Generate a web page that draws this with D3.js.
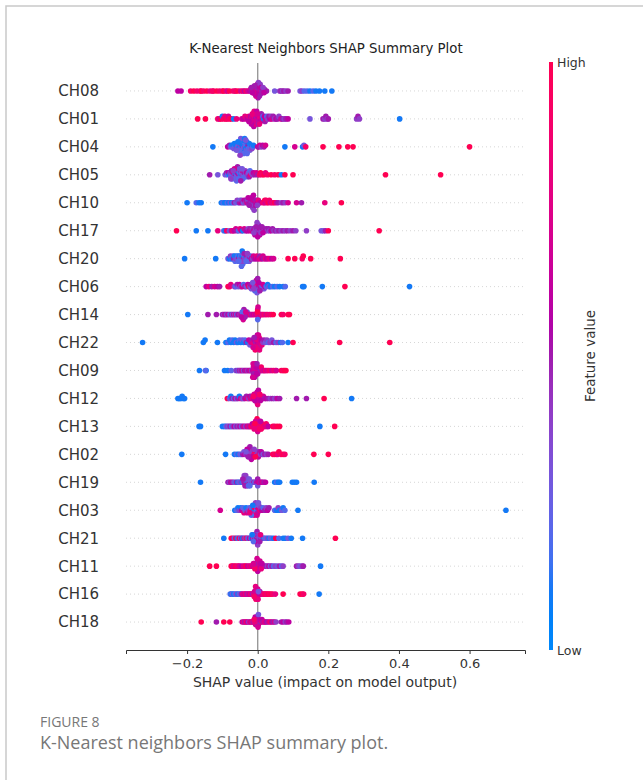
<!DOCTYPE html>
<html>
<head>
<meta charset="utf-8">
<script src="https://cdn.jsdelivr.net/npm/d3@7"></script>
<style>
  html, body { margin: 0; padding: 0; background: #fff; }
  svg { display: block; }
</style>
</head>
<body>
<div id="chart"></div>
<script>
// Feature order, top to bottom
const features = ["CH08", "CH01", "CH04", "CH05", "CH10", "CH17", "CH20", "CH06", "CH14", "CH22",
                  "CH09", "CH12", "CH13", "CH02", "CH19", "CH03", "CH21", "CH11", "CH16", "CH18"];

// each point: [SHAP value x1000, feature value 0 (low) .. 10 (high)]
// last line of each row = the dense core around its peak
const CH08 = [[-226,6],[-217,6],[-190,9],[-181,10],[-172,9],[-163,8],[-160,10],[-153,9],[-144,10],[-135,8],[-128,9],[-125,9],[-116,10],[-108,9],[-100,8],[-97,10],[-90,9],[-86,7],[-80,10],[-70,9],[-64,8],[-62,9],[-55,10],[-48,7],[-42,9],[-38,6],[-33,9],[-28,7],
  [-22,6],[-20,7],[-18,5],[-15,6],[-14,8],[-12,5],[-10,6],[-9,7],[-8,4],[-6,6],[-5,5],[-4,7],[-3,6],[-2,5],[-1,8],[0,5],[0,6],[1,4],[2,6],[3,7],[4,5],[5,5],[6,6],[7,4],[8,7],[10,5],[11,6],[13,4],[15,5],[17,6],[19,5],[22,4],[25,5],
  [48,3],[62,4],[66,5],[70,4],[74,5],[80,4],[86,5],[120,3],[125,4],[132,2],[140,2],[148,1],[157,2],[165,1],[175,1],[190,1],[210,1],
  [0,6],[0,5],[-1,7],[1,5],[-2,6],[2,4],[-4,5],[4,6],[-5,7],[5,5],[-7,6],[7,4],[-9,5],[9,6],[-12,7],[12,5],[-15,6],[15,4],[-18,5],[18,6]];
const CH01 = [[-170,10],[-148,10],[-113,9],[-108,7],[-104,10],[-100,1],[-97,9],[-93,8],[-90,10],[-87,9],[-83,7],[-80,9],[-75,10],[-68,1],[-60,8],[-45,7],[-40,6],[-36,8],[-32,7],[-28,6],[-25,8],[-22,7],[-20,6],[-17,8],[-15,7],[-12,6],[-10,8],[-8,7],[-6,6],[-4,5],[-2,8],[0,7],[1,6],[3,5],[5,7],[6,8],[8,6],[10,5],[12,7],[15,2],[17,1],[19,6],[21,5],[24,7],[26,2],[28,4],[32,5],[35,6],[38,4],[40,7],[44,5],[48,4],[52,6],[56,5],[60,4],[66,7],[70,5],[75,4],[80,5],[86,6],[148,3],[185,5],[190,4],[193,5],[197,4],[200,5],[280,4],[284,5],[288,4],[402,1],
  [-8,7],[-8,6],[-10,8],[-6,7],[-11,6],[-5,8],[-13,7],[-3,6],[-15,8],[-1,7],[-18,6],[2,5],[-21,7],[5,8],[-25,6]];
const CH04 = [[-127,1],[-85,6],[-80,5],[-77,3],[-74,1],[-72,2],[-70,1],[-68,3],[-66,1],[-64,2],[-62,1],[-60,4],[-58,1],[-56,2],[-55,3],[-54,1],[-52,2],[-50,1],[-49,4],[-48,2],[-47,1],[-46,3],[-45,1],[-44,2],[-43,5],[-42,1],[-41,2],[-40,1],[-39,3],[-38,2],[-37,1],[-36,4],[-35,2],[-34,1],[-33,2],[-32,3],[-31,1],[-30,2],[-28,1],[-27,5],[-26,2],[-24,1],[-22,3],[-20,2],[-18,1],[-16,4],[-14,2],[-12,1],[0,6],[3,5],[6,7],[10,4],[14,6],[18,5],[22,7],[77,1],[105,7],[127,1],[131,3],[136,9],[185,10],[230,10],[255,10],[270,10],[600,10],
  [-45,2],[-45,4],[-42,1],[-48,3],[-40,2],[-50,4],[-37,1],[-53,2],[-34,3],[-56,1],[-30,2],[-60,3]];
const CH05 = [[-136,5],[-113,3],[-92,3],[-88,5],[-85,2],[-82,6],[-80,1],[-78,4],[-76,3],[-74,5],[-72,2],[-70,7],[-68,3],[-66,4],[-64,1],[-63,6],[-62,3],[-60,2],[-58,5],[-57,3],[-56,1],[-55,4],[-53,6],[-52,2],[-50,3],[-48,5],[-47,1],[-46,3],[-44,4],[-43,7],[-42,2],[-40,3],[-38,5],[-37,2],[-35,4],[-33,3],[-31,6],[-30,2],[-28,4],[-26,3],[-24,5],[-22,2],[-20,8],[-18,3],[-15,4],[-12,6],[-8,5],[-4,7],[0,5],[5,9],[8,10],[12,9],[18,10],[22,8],[28,9],[38,10],[48,9],[58,10],[67,1],[77,10],[100,10],[362,10],[518,10],
  [-60,4],[-60,2],[-57,5],[-63,3],[-54,2],[-66,7],[-51,3],[-69,4],[-48,5],[-72,2],[-44,3],[-76,4]];
const CH10 = [[-200,1],[-174,2],[-166,1],[-160,1],[-103,1],[-98,2],[-94,1],[-90,1],[-86,2],[-82,1],[-78,3],[-74,1],[-70,2],[-66,5],[-62,3],[-58,4],[-55,2],[-52,5],[-50,3],[-47,6],[-45,4],[-42,5],[-40,3],[-38,6],[-35,4],[-33,5],[-30,7],[-28,4],[-26,5],[-24,3],[-22,6],[-20,5],[-18,4],[-16,6],[-14,5],[-12,7],[-10,4],[-8,6],[-6,5],[-4,7],[-2,5],[0,6],[2,8],[5,7],[8,6],[15,9],[18,8],[20,10],[22,7],[24,9],[27,8],[30,10],[33,9],[36,7],[40,9],[44,8],[48,10],[53,7],[58,5],[67,4],[72,5],[78,4],[86,7],[110,7],[124,5],[190,8],[237,10],
  [-14,5],[-14,4],[-12,6],[-16,5],[-10,4],[-18,6],[-7,5],[-21,4],[-4,6],[-24,5],[-1,4],[-27,6]];
const CH17 = [[-230,10],[-174,1],[-141,1],[-113,8],[-96,2],[-92,1],[-88,9],[-80,3],[-74,7],[-70,8],[-66,6],[-62,7],[-58,5],[-54,2],[-50,8],[-46,6],[-42,1],[-38,7],[-34,5],[-30,6],[-27,4],[-24,6],[-21,5],[-18,7],[-15,4],[-12,6],[-10,5],[-8,7],[-6,4],[-4,6],[-2,5],[0,3],[0,6],[2,5],[4,4],[6,6],[8,5],[10,4],[13,6],[16,5],[19,4],[22,6],[25,5],[28,4],[31,5],[34,4],[38,6],[42,5],[46,4],[50,5],[55,4],[60,5],[66,4],[72,5],[78,4],[84,5],[92,4],[100,5],[108,4],[138,4],[180,3],[186,3],[192,5],[200,10],[344,10],
  [2,5],[2,4],[0,6],[4,5],[-2,4],[6,6],[-5,5],[9,4],[-8,6],[12,5],[-11,4],[15,6]];
const CH20 = [[-207,1],[-119,1],[-84,3],[-80,1],[-77,4],[-74,2],[-72,1],[-70,3],[-68,5],[-66,1],[-64,2],[-62,4],[-60,1],[-58,3],[-56,2],[-54,5],[-52,1],[-50,3],[-48,2],[-46,4],[-44,1],[-42,3],[-40,5],[-38,2],[-36,4],[-34,1],[-32,3],[-30,6],[-28,2],[-26,4],[-24,3],[-22,5],[-20,2],[-18,6],[-15,4],[-12,7],[-9,5],[-6,6],[-3,8],[0,6],[3,7],[6,5],[9,8],[12,6],[15,7],[18,5],[22,8],[26,6],[30,7],[35,8],[40,6],[45,7],[86,10],[105,10],[126,9],[129,10],[150,10],[234,10],
  [-42,3],[-42,2],[-40,4],[-44,1],[-38,5],[-46,2],[-35,3],[-49,4],[-32,2],[-52,3],[-29,4],[-55,2]];
const CH06 = [[-146,6],[-138,8],[-130,5],[-122,7],[-114,6],[-108,5],[-84,10],[-79,9],[-76,8],[-66,4],[-62,2],[-58,5],[-55,3],[-52,6],[-48,4],[-44,7],[-40,2],[-36,5],[-32,3],[-28,6],[-25,10],[-22,4],[-20,5],[-18,3],[-15,7],[-12,4],[-10,6],[-8,2],[-6,5],[-4,9],[-2,3],[0,6],[0,4],[2,5],[3,7],[5,3],[7,6],[9,4],[11,5],[13,2],[15,7],[18,3],[20,6],[24,2],[28,1],[32,3],[36,1],[42,2],[48,1],[55,2],[62,1],[72,1],[78,2],[127,1],[131,1],[183,1],[247,10],[430,1],
  [-4,4],[-4,6],[-2,3],[-6,8],[0,5],[-8,2],[3,6],[-11,4],[6,5],[-14,3]];
const CH14 = [[-198,1],[-141,5],[-117,5],[-100,5],[-96,4],[-93,6],[-90,5],[-87,3],[-84,6],[-80,4],[-77,2],[-74,5],[-71,3],[-68,6],[-65,4],[-62,7],[-59,2],[-56,5],[-53,6],[-50,4],[-47,7],[-44,5],[-42,6],[-40,4],[-38,7],[-35,5],[-32,6],[-30,3],[-28,7],[-25,5],[-22,6],[-20,8],[-17,5],[-14,7],[-11,6],[-8,8],[-5,6],[-2,7],[0,9],[0,5],[2,7],[4,8],[7,6],[10,9],[13,7],[16,8],[20,9],[24,7],[28,9],[33,8],[38,9],[44,10],[67,10],[72,9],[86,10],[90,10],
  [-40,5],[-40,6],[-39,5],[-41,7],[-38,4],[-42,6],[-36,5],[-44,2],[-34,7],[-46,6],[0,8],[0,2],[1,7],[-1,10]];
const CH22 = [[-326,1],[-154,1],[-149,1],[-114,1],[-90,1],[-84,2],[-80,1],[-76,1],[-72,2],[-68,1],[-64,1],[-60,3],[-56,1],[-52,2],[-48,1],[-44,3],[-40,1],[-36,2],[-32,5],[-28,1],[-25,6],[-22,3],[-19,7],[-16,5],[-13,8],[-10,6],[-8,9],[-6,5],[-4,7],[-2,8],[0,6],[0,8],[2,7],[4,9],[6,5],[8,7],[10,6],[12,8],[15,4],[18,5],[22,3],[26,4],[30,2],[35,4],[40,3],[45,5],[52,2],[58,4],[65,1],[70,2],[86,1],[100,10],[232,10],[374,10],
  [-4,7],[-4,8],[-1,6],[-7,9],[2,7],[-10,5],[5,8],[-13,7]];
const CH09 = [[-165,1],[-146,1],[-148,2],[-94,1],[-85,1],[-75,2],[-62,3],[-58,5],[-55,2],[-52,6],[-49,4],[-46,5],[-43,7],[-40,3],[-37,6],[-34,5],[-31,7],[-28,4],[-25,6],[-22,5],[-20,7],[-17,4],[-14,6],[-12,5],[-9,7],[-6,6],[-4,8],[-2,5],[0,7],[0,6],[2,8],[4,6],[6,7],[8,5],[10,9],[13,7],[16,8],[19,6],[22,9],[26,7],[30,8],[35,9],[40,7],[45,8],[50,9],[53,7],[67,10],[72,9],[76,10],[80,10],
  [-8,6],[-8,5],[-7,7],[-9,6],[-6,5],[-10,7],[-5,6],[-11,7],[-4,6],[-12,5],[-3,6],[-13,7],[-2,5],[-14,7]];
const CH12 = [[-226,1],[-222,1],[-218,1],[-214,1],[-210,1],[-207,1],[-86,10],[-80,3],[-76,1],[-72,5],[-68,2],[-64,6],[-60,3],[-56,5],[-52,1],[-48,7],[-44,4],[-40,3],[-36,6],[-32,5],[-28,8],[-25,4],[-22,6],[-20,7],[-17,5],[-14,8],[-11,6],[-8,7],[-6,5],[-4,9],[-2,6],[0,7],[0,5],[2,8],[4,6],[6,7],[8,5],[10,8],[13,6],[16,7],[20,5],[24,6],[30,5],[36,4],[42,5],[48,4],[55,6],[62,5],[110,5],[138,5],[188,10],[266,1],
  [-2,7],[-2,6],[0,8],[-4,7],[2,6],[-6,8],[4,7],[-8,6],[6,9],[-10,7],[8,6],[-12,9]];
const CH13 = [[-166,1],[-162,1],[-100,1],[-94,1],[-90,2],[-86,4],[-82,3],[-78,5],[-74,2],[-70,4],[-66,6],[-62,3],[-58,5],[-54,4],[-50,6],[-46,3],[-42,5],[-38,7],[-34,4],[-30,6],[-27,8],[-24,5],[-21,7],[-18,9],[-15,6],[-12,8],[-9,7],[-6,9],[-4,6],[-2,8],[0,10],[0,7],[2,9],[4,6],[6,8],[8,10],[10,7],[12,9],[15,8],[18,10],[21,7],[24,9],[27,8],[30,6],[43,10],[48,9],[55,10],[62,10],[176,1],[218,10],
  [0,9],[0,7],[2,8],[-2,10],[4,7],[-4,8],[6,9],[-6,7],[8,6],[-8,10],[10,9],[-10,8]];
const CH02 = [[-215,1],[-91,1],[-66,1],[-60,2],[-55,1],[-50,3],[-46,2],[-42,5],[-39,3],[-36,6],[-33,4],[-30,5],[-27,10],[-24,4],[-21,6],[-18,3],[-15,5],[-12,9],[-10,4],[-8,6],[-6,5],[-4,3],[-2,7],[0,5],[0,4],[2,6],[4,9],[6,5],[8,4],[10,6],[13,5],[16,3],[20,5],[25,4],[30,5],[43,10],[48,9],[53,10],[57,8],[60,10],[66,9],[72,10],[77,9],[159,10],[200,10],
  [-20,5],[-20,4],[-18,6],[-22,5],[-16,9],[-24,4],[-13,6],[-27,5],[-10,4],[-30,6],[-7,10],[-33,3]];
const CH19 = [[-162,1],[-84,5],[-80,4],[-76,6],[-72,5],[-68,4],[-64,2],[-60,5],[-56,1],[-53,3],[-50,2],[-47,4],[-44,1],[-41,3],[-38,5],[-35,2],[-32,4],[-29,1],[-26,3],[-23,5],[-20,2],[-17,4],[-14,3],[-11,5],[-8,2],[-5,4],[-2,6],[0,5],[0,3],[2,6],[5,7],[8,5],[11,6],[14,7],[18,5],[22,6],[48,1],[54,2],[58,1],[62,1],[98,1],[104,1],[110,1],[160,1],
  [-32,3],[-32,5],[-30,2],[-34,4],[-28,3],[-36,5],[-26,2],[-38,4],[-24,3],[-40,4],[-22,2],[-42,5]];
const CH03 = [[-106,7],[-65,1],[-60,2],[-56,1],[-52,4],[-48,1],[-45,6],[-42,2],[-39,8],[-36,3],[-33,1],[-30,7],[-27,4],[-24,2],[-21,8],[-18,3],[-15,6],[-12,1],[-9,9],[-6,4],[-3,2],[0,7],[0,5],[3,3],[6,8],[9,4],[12,6],[15,2],[20,5],[24,4],[28,6],[32,5],[48,2],[54,1],[58,4],[62,1],[68,3],[72,1],[77,2],[114,1],[703,1],
  [-10,2],[-10,8],[-6,4],[-14,1],[-2,7],[-18,2],[2,3],[-22,8]];
const CH21 = [[-96,1],[-75,10],[-70,9],[-66,2],[-62,10],[-58,1],[-55,3],[-52,9],[-48,2],[-45,5],[-42,1],[-38,8],[-35,3],[-32,10],[-29,4],[-26,2],[-23,6],[-20,4],[-17,1],[-14,5],[-11,3],[-8,7],[-5,2],[-2,5],[0,4],[0,1],[2,6],[5,3],[8,5],[11,2],[14,4],[17,1],[20,3],[24,2],[28,4],[32,1],[36,3],[40,2],[45,1],[51,10],[60,2],[72,1],[78,1],[86,3],[95,1],[127,1],[220,10],
  [-4,4],[-4,3],[-2,5],[-6,2],[0,4],[-8,6],[2,3],[-10,5],[4,4],[-12,2],[6,5],[-14,3],[8,8],[-16,1]];
const CH11 = [[-136,10],[-117,10],[-75,10],[-71,9],[-67,7],[-63,10],[-58,8],[-54,9],[-51,7],[-45,6],[-40,8],[-36,7],[-33,10],[-28,6],[-24,8],[-20,7],[-16,9],[-13,6],[-10,8],[-7,7],[-4,6],[-2,9],[0,7],[0,5],[2,8],[4,6],[6,7],[8,5],[11,6],[14,4],[17,5],[20,3],[24,5],[28,4],[32,6],[36,3],[40,5],[45,2],[50,4],[56,3],[62,5],[68,2],[72,4],[110,5],[115,4],[120,3],[126,4],[129,5],[178,1],
  [0,7],[0,6],[2,8],[-2,7],[4,6],[-4,8],[6,7],[-6,7],[8,6],[-8,9],[10,8],[-10,5],[12,6],[-12,7]];
const CH16 = [[-78,2],[-75,1],[-72,3],[-68,1],[-64,2],[-60,4],[-56,1],[-52,3],[-48,2],[-46,5],[-42,8],[-38,6],[-35,9],[-32,7],[-29,5],[-26,8],[-23,6],[-20,9],[-17,7],[-14,5],[-11,8],[-8,6],[-6,9],[-4,7],[-2,5],[0,8],[0,6],[2,9],[4,7],[6,5],[8,8],[10,6],[12,9],[15,7],[18,8],[21,10],[24,9],[27,8],[30,10],[34,9],[38,10],[43,9],[50,8],[72,10],[120,10],[126,10],[130,9],[174,1],
  [-4,7],[-4,8],[-3,6],[-5,9],[-2,7],[-6,8],[-1,6],[-7,9],[0,7],[-8,6],[1,8],[-9,7],[2,3],[-10,9]];
const CH18 = [[-160,10],[-117,5],[-96,10],[-79,10],[-44,6],[-40,8],[-37,5],[-34,7],[-31,9],[-28,6],[-25,4],[-22,8],[-19,6],[-16,9],[-13,5],[-10,7],[-7,6],[-4,8],[-2,5],[0,3],[0,7],[2,6],[4,8],[6,5],[8,7],[10,9],[12,6],[15,5],[18,7],[21,8],[24,6],[28,5],[32,7],[36,9],[40,6],[44,5],[48,7],[52,4],[67,5],[72,6],[78,4],[82,5],[88,6],
  [-4,6],[-4,7],[-3,5],[-5,8],[-2,6],[-6,7],[-1,5],[-7,6],[0,6],[-8,8],[1,7],[-9,5],[2,3],[-10,9]];

const rows = [CH08, CH01, CH04, CH05, CH10, CH17, CH20, CH06, CH14, CH22,
              CH09, CH12, CH13, CH02, CH19, CH03, CH21, CH11, CH16, CH18];

const xTicks = [-0.2, 0.0, 0.2, 0.4, 0.6];

const width = 643, height = 780;
const chartFont = "'DejaVu Sans', sans-serif";

// shap red_blue colormap (lch interpolation, darker in the middle)
const shapColor = t => {
  const h = 266.9 + 113.4 * t;
  const c = 70 + 20 * t;
  const l = 54 - 28 * Math.min(t, 1 - t);
  return d3.hcl(h, c, l).formatHex();
};

// beeswarm offsets like shap's summary_plot (100 bins, alternate up/down)
const swarm = (pts) => {
  const lo = d3.min(pts, d => d.v), hi = d3.max(pts, d => d.v);
  const q = pts.map(d => Math.round(100 * (d.v - lo) / (hi - lo + 1e-8)));
  const idx = d3.range(pts.length).sort((a, b) => q[a] - q[b] || a - b);
  const ys = new Array(pts.length).fill(0);
  let layer = 0, last = -1;
  for (const i of idx) {
    if (q[i] !== last) layer = 0;
    ys[i] = Math.ceil(layer / 2) * ((layer % 2) * 2 - 1);
    layer++;
    last = q[i];
  }
  const m = d3.max(ys) + 1;
  return ys.map(y => y * 0.9 * 0.4 / m);
};

const svg = d3.select("#chart").append("svg")
  .attr("width", width)
  .attr("height", height);

// card frame
svg.append("rect")
  .attr("x", 6).attr("y", 6)
  .attr("width", 800).attr("height", 900)
  .attr("fill", "none")
  .attr("stroke", "#c9c9c9")
  .attr("stroke-width", 1.5);

const x = d3.scaleLinear().domain([-0.373, 0.757]).range([126, 525]);
const nF = features.length;
// row position: bottom feature at 0, top at nF-1, limits [-1, nF]
const y = d3.scaleLinear().domain([-1, nF]).range([650, 63]);
const rowPos = i => nF - 1 - i;

// dotted row guides
svg.append("g")
  .selectAll("line")
  .data(features)
  .join("line")
  .attr("x1", x.range()[0]).attr("x2", x.range()[1])
  .attr("y1", (d, i) => y(rowPos(i))).attr("y2", (d, i) => y(rowPos(i)))
  .attr("stroke", "#cccccc")
  .attr("stroke-width", 0.8)
  .attr("stroke-dasharray", "1,3");

// zero line
svg.append("line")
  .attr("x1", x(0)).attr("x2", x(0))
  .attr("y1", y(nF)).attr("y2", y(-1))
  .attr("stroke", "#999999")
  .attr("stroke-width", 1.4);

// dots
const dots = svg.append("g");
rows.forEach((row, i) => {
  const pts = row.map(d => ({ v: d[0] / 1000, f: d[1] / 10 }));
  const off = swarm(pts);
  dots.append("g")
    .selectAll("circle")
    .data(pts)
    .join("circle")
    .attr("cx", d => x(d.v))
    .attr("cy", (d, j) => y(rowPos(i) + off[j]))
    .attr("r", 2.8)
    .attr("fill", d => shapColor(d.f));
});

// feature labels
svg.append("g")
  .selectAll("text")
  .data(features)
  .join("text")
  .attr("x", 99)
  .attr("y", (d, i) => y(rowPos(i)))
  .attr("dy", "0.36em")
  .attr("text-anchor", "end")
  .style("font-family", chartFont)
  .style("font-size", "15px")
  .style("fill", "#333")
  .text(d => d);

// x axis
const xAxis = svg.append("g")
  .attr("transform", `translate(0,${y(-1)})`)
  .call(d3.axisBottom(x).tickValues(xTicks).tickFormat(d3.format(".1f")).tickSizeOuter(0).tickSize(4));
xAxis.select(".domain").attr("stroke", "#333");
xAxis.selectAll(".tick line").attr("stroke", "#333");
xAxis.selectAll("text")
  .style("font-family", chartFont)
  .style("font-size", "13px")
  .style("fill", "#333")
  .attr("dy", "0.85em");

svg.append("text")
  .attr("x", 325).attr("y", 687)
  .attr("text-anchor", "middle")
  .style("font-family", chartFont)
  .style("font-size", "14px")
  .style("fill", "#333")
  .text("SHAP value (impact on model output)");

// title
svg.append("text")
  .attr("x", 326).attr("y", 53)
  .attr("text-anchor", "middle")
  .style("font-family", chartFont)
  .style("font-size", "13.3px")
  .style("fill", "#222")
  .text("K-Nearest Neighbors SHAP Summary Plot");

// colour bar
const grad = svg.append("defs").append("linearGradient")
  .attr("id", "cbar").attr("x1", 0).attr("y1", 1).attr("x2", 0).attr("y2", 0);
d3.range(0, 1.0001, 0.05).forEach(t => {
  grad.append("stop").attr("offset", t).attr("stop-color", shapColor(t));
});
const cbTop = 62, cbBot = 650;
svg.append("rect")
  .attr("x", 549).attr("y", cbTop)
  .attr("width", 4).attr("height", cbBot - cbTop)
  .attr("fill", "url(#cbar)");

svg.append("text")
  .attr("x", 557).attr("y", cbTop + 5)
  .style("font-family", chartFont).style("font-size", "12.5px").style("fill", "#333")
  .text("High");
svg.append("text")
  .attr("x", 557).attr("y", cbBot + 5)
  .style("font-family", chartFont).style("font-size", "12.5px").style("fill", "#333")
  .text("Low");
svg.append("text")
  .attr("transform", `translate(595,${(cbTop + cbBot) / 2}) rotate(-90)`)
  .attr("text-anchor", "middle")
  .style("font-family", chartFont).style("font-size", "13.5px").style("fill", "#333")
  .text("Feature value");

// caption
svg.append("text")
  .attr("x", 40).attr("y", 727)
  .style("font-family", "'Open Sans', sans-serif")
  .style("font-size", "14px")
  .style("fill", "#777")
  .text("FIGURE 8");
svg.append("text")
  .attr("x", 40).attr("y", 749)
  .style("font-family", "'Open Sans', sans-serif")
  .style("font-size", "18px")
  .style("fill", "#777")
  .text("K-Nearest neighbors SHAP summary plot.");
</script>
</body>
</html>
